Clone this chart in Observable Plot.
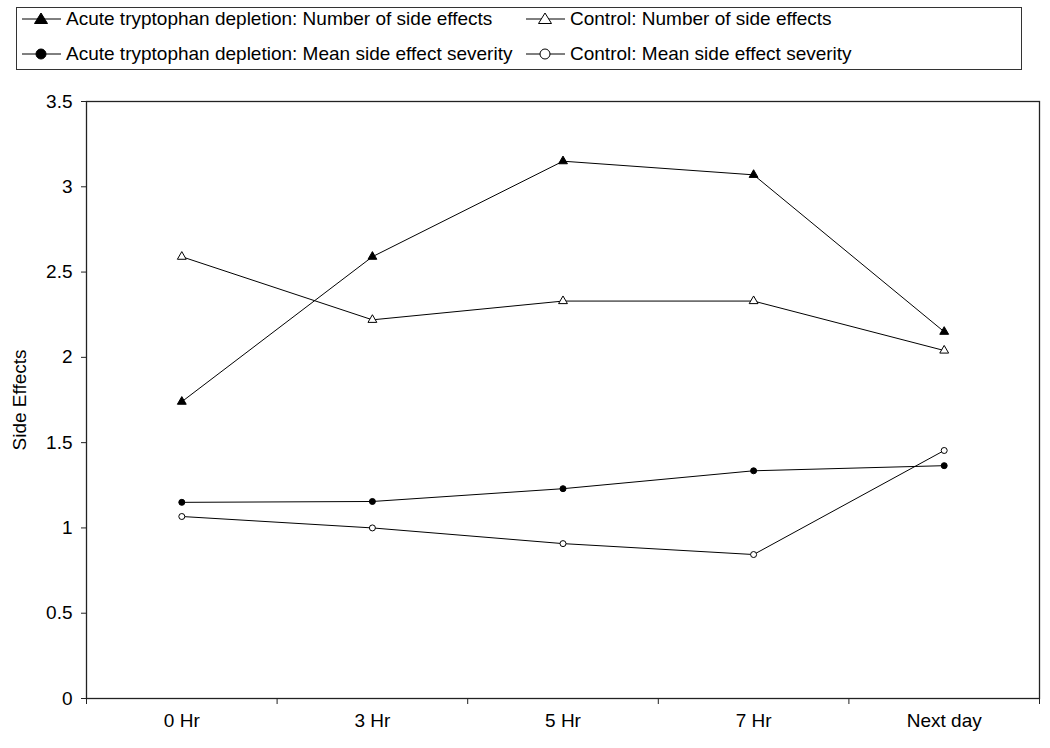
<!DOCTYPE html>
<html>
<head>
<meta charset="utf-8">
<script src="https://cdn.jsdelivr.net/npm/d3@7"></script>
<script src="https://cdn.jsdelivr.net/npm/@observablehq/plot@0.6"></script>
<style>
  html, body { margin: 0; padding: 0; background: #fff; }
  body { width: 1050px; height: 748px; overflow: hidden; font-family: Arial, "Liberation Sans", sans-serif; }
  #legend { position: relative; height: 80px; }
  #legendbox { position: absolute; left: 16px; top: 7px; width: 1006px; height: 63px; border: 1.5px solid #333; box-sizing: border-box; }
  .item { position: absolute; display: flex; align-items: center; font-size: 19px; color: #000; white-space: nowrap; }
  .item svg { margin-right: 3px; }
</style>
</head>
<body>
<div id="legend"><div id="legendbox"></div></div>
<div id="chart"></div>
<script>
const categories = ["0 Hr", "3 Hr", "5 Hr", "7 Hr", "Next day"];
const atdNumber   = [1.74, 2.59, 3.15, 3.07, 2.15];
const ctlNumber   = [2.59, 2.22, 2.33, 2.33, 2.04];
const atdSeverity = [1.15, 1.155, 1.23, 1.335, 1.365];
const ctlSeverity = [1.067, 1.0, 0.908, 0.844, 1.454];
const yTicks = [0, 0.5, 1, 1.5, 2, 2.5, 3, 3.5];

const seriesDefs = [
  {name: "Acute tryptophan depletion: Number of side effects", values: atdNumber, symbol: "triangle", fill: "black"},
  {name: "Control: Number of side effects", values: ctlNumber, symbol: "triangle", fill: "white"},
  {name: "Acute tryptophan depletion: Mean side effect severity", values: atdSeverity, symbol: "circle", fill: "black"},
  {name: "Control: Mean side effect severity", values: ctlSeverity, symbol: "circle", fill: "white"}
];

const rows = seriesDefs.flatMap(s => s.values.map((v, i) => ({series: s.name, i, value: v, symbol: s.symbol, fill: s.fill})));

// Legend
const box = document.getElementById("legendbox");
const legendPos = [
  {left: 4, top: 11}, {left: 508, top: 11}, {left: 4, top: 46}, {left: 508, top: 46}
];
seriesDefs.forEach((s, k) => {
  const d = document.createElement("div");
  d.className = "item";
  d.style.left = legendPos[k].left + "px";
  d.style.top = (legendPos[k].top - 11) + "px";
  const sym = s.symbol === "triangle"
    ? `<path d="M20,4 L26.5,14.5 L13.5,14.5 Z" fill="${s.fill}" stroke="black" stroke-width="1"/>`
    : `<circle cx="20" cy="10" r="5" fill="${s.fill}" stroke="black" stroke-width="1"/>`;
  d.innerHTML = `<svg width="42" height="20"><line x1="1" y1="10" x2="40" y2="10" stroke="black" stroke-width="1"/>${sym}</svg><span>${s.name}</span>`;
  box.appendChild(d);
});

const chart = Plot.plot({
  width: 1050,
  height: 668,
  marginTop: 21,
  marginBottom: 50,
  marginLeft: 86,
  marginRight: 11,
  style: {fontFamily: "Arial, 'Liberation Sans', sans-serif", fontSize: "19px", color: "black", background: "white"},
  x: {type: "linear", domain: [-0.5, categories.length - 0.5]},
  y: {domain: [0, 3.5]},
  marks: [
    Plot.frame({stroke: "#222", strokeWidth: 1.3}),
    Plot.axisY({ticks: yTicks, tickSize: 5, tickPadding: 9, tickFormat: d => String(d), label: "Side Effects", labelAnchor: "center", labelArrow: "none", labelOffset: 74, stroke: "#222"}),
    Plot.axisX({ticks: d3.range(-0.5, categories.length, 1), tickSize: 6, tickFormat: () => "", label: null, stroke: "#222"}),
    Plot.axisX({ticks: d3.range(categories.length), tickSize: 0, tickPadding: 15, tickFormat: i => categories[i], label: null}),
    Plot.line(rows, {x: "i", y: "value", z: "series", stroke: "black", strokeWidth: 1}),
    Plot.dot(rows, {x: "i", y: "value", symbol: "symbol", fill: "fill", stroke: "black", strokeWidth: 1, r: d => d.symbol === "triangle" ? 6 : 5})
  ]
});
document.getElementById("chart").appendChild(chart);
</script>
</body>
</html>
